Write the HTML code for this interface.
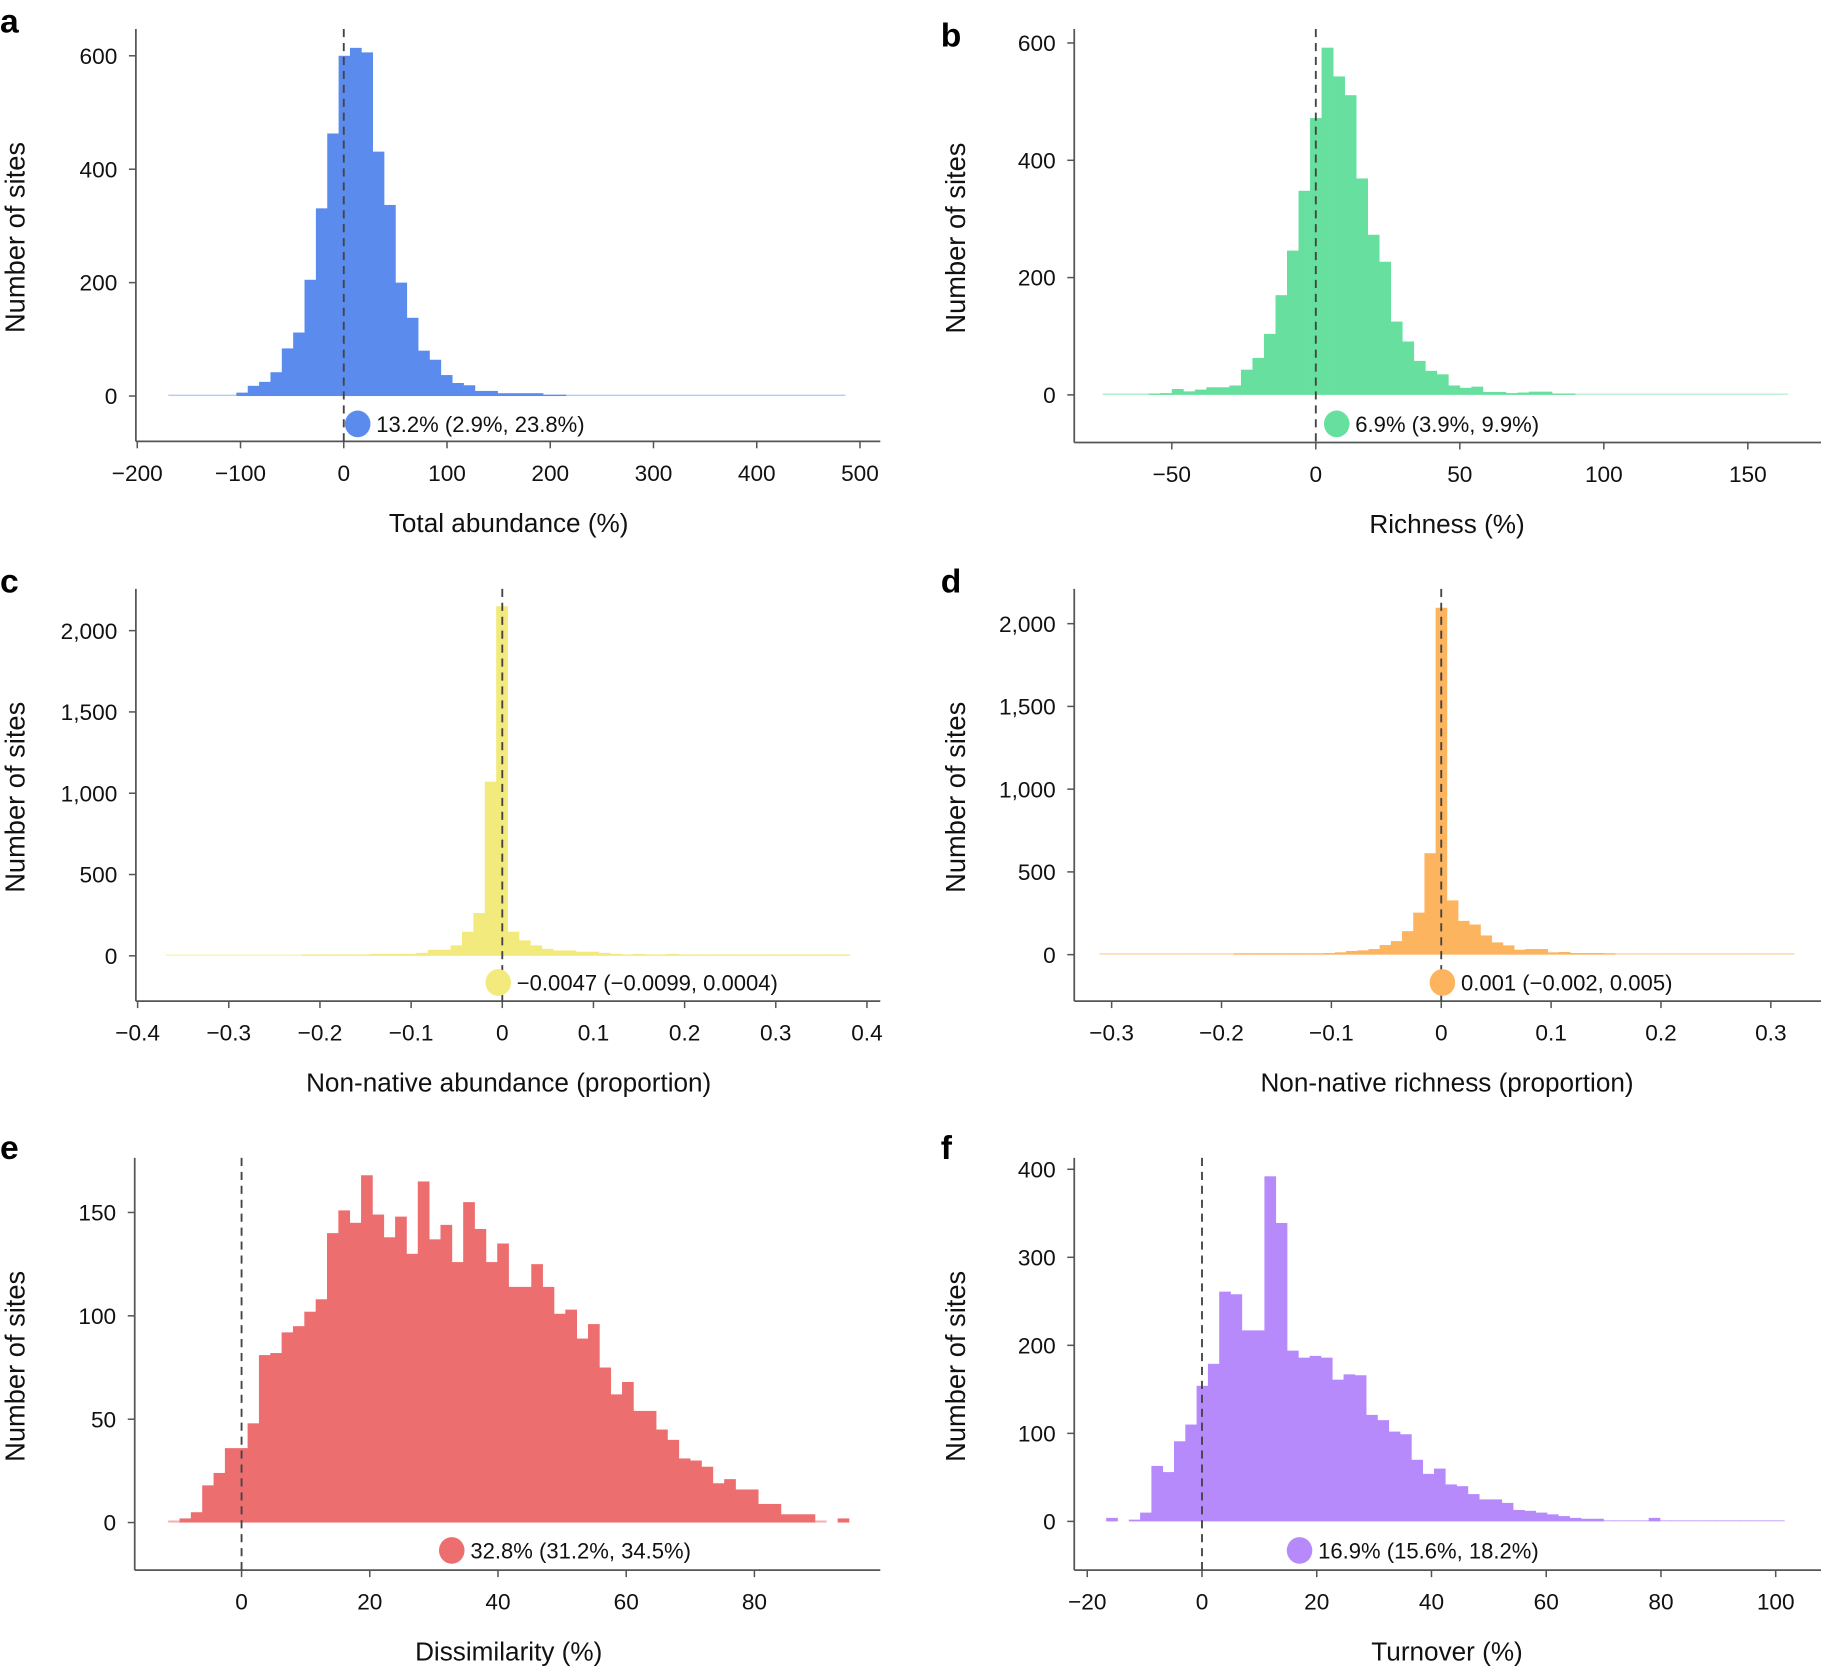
<!DOCTYPE html>
<html><head><meta charset="utf-8"><style>
html,body{margin:0;padding:0;background:#fff;}
svg{display:block;font-family:"Liberation Sans",sans-serif;}
</style></head><body>
<svg id="s" width="1821" height="1666" viewBox="0 0 1568 1434.5" xmlns="http://www.w3.org/2000/svg"></svg>
<script>
const NS="http://www.w3.org/2000/svg";
const svg=document.getElementById('s');
function el(t,a,txt){const e=document.createElementNS(NS,t);for(const k in a)e.setAttribute(k,a[k]);if(txt!==undefined)e.textContent=txt;svg.appendChild(e);return e;}
function rep(v,n){return Array(n).fill(v);}
const P=[
{L:'a',lx:0,ly:28,ax:117,top:25,bot:380,right:758,x0:296,xs:0.889,y0:341,ys:0.4883,col:'#5b8bec',
 start:-104,w:11,h:[6,18,25,42,84,112,205,331,463,600,614,606,431,337,200,138,80,64,37,23,19,9,9,5,5,5,5,2,2],
 tails:[[-170,-104,1],[214,486,1]],
 xt:[[-200,'−200'],[-100,'−100'],[0,'0'],[100,'100'],[200,'200'],[300,'300'],[400,'400'],[500,'500']],
 yt:[[0,'0'],[200,'200'],[400,'400'],[600,'600']],dot:[308,365],lab:'13.2% (2.9%, 23.8%)',title:'Total abundance (%)',tx:438},
{L:'b',lx:810,ly:40,ax:925,top:25,bot:381,right:1568,x0:1133,xs:2.48,y0:340,ys:0.505,col:'#67df9e',
 start:-74,w:4,h:[1,1,1.5,1.5,2,3,10,6,9,13,13,16,43,63,104,170,246,348,472,592,543,511,369,273,227,125,91,58,41,35,16,12,14,5,5,3,4,5.5,5.5,2,2],
 tails:[[90,164,0.6]],
 xt:[[-50,'−50'],[0,'0'],[50,'50'],[100,'100'],[150,'150']],
 yt:[[0,'0'],[200,'200'],[400,'400'],[600,'600']],dot:[1151,365],lab:'6.9% (3.9%, 9.9%)',title:'Richness (%)',tx:1246},
{L:'c',lx:0,ly:510,ax:117,top:507,bot:862,right:758,x0:432.5,xs:785,y0:823,ys:0.14,col:'#f2ea7c',
 start:-0.0067-0.0125*29,w:0.0125,
 h:[].concat(rep(1,12),rep(3,5),[6,12,12,12,12,18,37,37,64,148,263,1071],[2150,148,95,64,43,33,33,25,25,18,12,6,12,6,6,12,6,6],rep(2,13)),
 tails:[],
 xt:[[-0.4,'−0.4'],[-0.3,'−0.3'],[-0.2,'−0.2'],[-0.1,'−0.1'],[0,'0'],[0.1,'0.1'],[0.2,'0.2'],[0.3,'0.3'],[0.4,'0.4']],
 yt:[[0,'0'],[500,'500'],[1000,'1,000'],[1500,'1,500'],[2000,'2,000']],dot:[429,846],lab:'−0.0047 (−0.0099, 0.0004)',title:'Non-native abundance (proportion)',tx:438},
{L:'d',lx:810,ly:510,ax:925,top:507,bot:862,right:1568,x0:1241,xs:946,y0:822,ys:0.1425,col:'#fdb45f',
 start:-0.0051-0.0102*30,w:0.0102,
 h:[].concat(rep(1,12),rep(3,6),[8,8,10,14,22,26,34,58,82,142,254,613],[2096,328,204,182,116,74,56,30,34,34,14,16,10,10,10,4],rep(1,16)),
 tails:[],
 xt:[[-0.3,'−0.3'],[-0.2,'−0.2'],[-0.1,'−0.1'],[0,'0'],[0.1,'0.1'],[0.2,'0.2'],[0.3,'0.3']],
 yt:[[0,'0'],[500,'500'],[1000,'1,000'],[1500,'1,500'],[2000,'2,000']],dot:[1242,846],lab:'0.001 (−0.002, 0.005)',title:'Non-native richness (proportion)',tx:1246},
{L:'e',lx:0,ly:998,ax:116,top:997,bot:1352,right:758,x0:208,xs:5.52,y0:1311,ys:1.78,col:'#ec6e6f',
 start:-11.45,w:1.77,
 h:[1,2,5,18,24,36,36,48,81,82,92,95,102,108,140,151,145,168,149,138,148,130,165,137,144,126,155,142,126,135,114,114,125,114,101,103,89,96,75,62,68,54,54,45,40,31,30,27,19,21,16,16,9,9,4,4,4,1,0,2],
 tails:[],
 xt:[[0,'0'],[20,'20'],[40,'40'],[60,'60'],[80,'80']],
 yt:[[0,'0'],[50,'50'],[100,'100'],[150,'150']],dot:[389,1335],lab:'32.8% (31.2%, 34.5%)',title:'Dissimilarity (%)',tx:438},
{L:'f',lx:810,ly:998,ax:925,top:997,bot:1352,right:1568,x0:1035,xs:4.94,y0:1310,ys:0.758,col:'#b78afb',
 start:-16.7,w:1.97,
 h:[4,0,2,10,63,56,91,110,154,179,261,258,217,217,392,339,194,186,188,186,161,167,166,121,115,102,99,70,54,60,42,40,31,25,25,21,13,12,10,8,6,4,3,3,0.6,0.6,0.6,0.6,4,1,0.6,0.6,0.6,0.6,1,0.6,0.6,0.6,0.6,1],
 tails:[],
 xt:[[-20,'−20'],[0,'0'],[20,'20'],[40,'40'],[60,'60'],[80,'80'],[100,'100']],
 yt:[[0,'0'],[100,'100'],[200,'200'],[300,'300'],[400,'400']],dot:[1119,1335],lab:'16.9% (15.6%, 18.2%)',title:'Turnover (%)',tx:1246}
];
for(const p of P){
  const X=v=>p.x0+v*p.xs, Y=c=>p.y0-c*p.ys;
  p.h.forEach((c,i)=>{ if(c<=0)return; const a=p.start+i*p.w; const x1=X(a),x2=X(a+p.w); const hh=Math.max(c*p.ys,1.2);
    el('rect',{x:x1,y:p.y0-hh,width:x2-x1+0.3,height:hh,fill:p.col,'fill-opacity':c<2?0.55:1});});
  for(const t of p.tails){const hh=Math.max(t[2]*p.ys,1.2);el('rect',{x:X(t[0]),y:p.y0-hh,width:X(t[1])-X(t[0]),height:hh,fill:p.col,'fill-opacity':0.45});}
  el('line',{x1:p.ax,y1:p.top,x2:p.ax,y2:p.bot,stroke:'#555','stroke-width':1.5});
  el('line',{x1:p.ax,y1:p.bot,x2:p.right,y2:p.bot,stroke:'#555','stroke-width':1.5});
  for(const [v,s] of p.yt){const y=Y(v);el('line',{x1:p.ax-6,y1:y,x2:p.ax,y2:y,stroke:'#555','stroke-width':1.3});
    el('text',{x:p.ax-16,y:y+7,'text-anchor':'end','font-size':19.5,fill:'#111'},s);}
  for(const [v,s] of p.xt){const x=X(v);el('line',{x1:x,y1:p.bot,x2:x,y2:p.bot+6,stroke:'#555','stroke-width':1.3});
    el('text',{x:x,y:p.bot+34,'text-anchor':'middle','font-size':19.5,fill:'#111'},s);}
  el('line',{x1:X(0),y1:p.top,x2:X(0),y2:p.bot,stroke:'#444','stroke-width':1.6,'stroke-dasharray':'7,5'});
  el('ellipse',{cx:p.dot[0],cy:p.dot[1],rx:11,ry:11.5,fill:p.col});
  el('text',{x:p.dot[0]+16,y:p.dot[1]+7,'font-size':19,fill:'#111'},p.lab);
  el('text',{x:p.tx,y:p.bot+78,'text-anchor':'middle','font-size':22.5,fill:'#111'},p.title);
  const ycen=(p.top+p.bot)/2+2;
  const tx=p.lx+21;
  el('text',{x:tx,y:ycen,'text-anchor':'middle','font-size':23.5,fill:'#111',transform:`rotate(-90 ${tx} ${ycen})`},'Number of sites');
  el('text',{x:p.lx,y:p.ly,'font-size':29,'font-weight':'bold',fill:'#000'},p.L);
}
</script>
</body></html>
